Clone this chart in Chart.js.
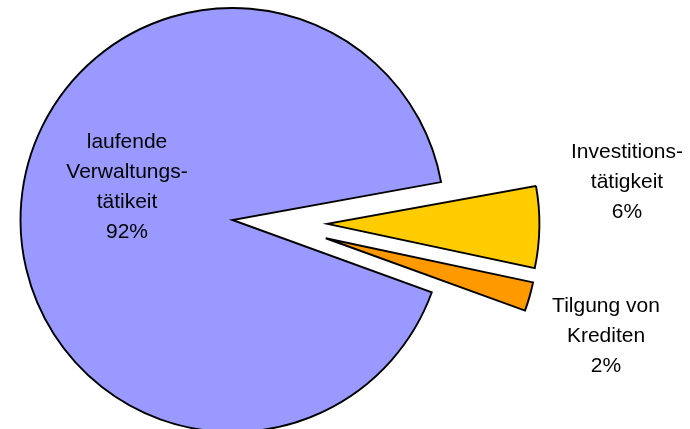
<!DOCTYPE html>
<html>
<head>
<meta charset="utf-8">
<script src="https://cdn.jsdelivr.net/npm/chart.js@4.4.0/dist/chart.umd.min.js"></script>
<style>
  html, body { margin: 0; padding: 0; background: #fff; }
  canvas { display: block; }
</style>
</head>
<body>
<canvas id="pieChart" width="690" height="429"></canvas>
<script>
// data
const categories = [
  ['Investitions-', 'tätigkeit'],
  ['Tilgung von', 'Krediten'],
  ['laufende', 'Verwaltungs-', 'tätikeit']
];
const shares = [6.2, 2.2, 91.6];

// styling
const sliceColors = ['#ffcc00', '#ff9900', '#9999ff'];
const explodeDist = [95, 95, 0];
// small correction (degrees) of the pull-out direction vs. the slice middle
const explodeTurn = [1.5, -4.9, 0];
// label anchor (first baseline) relative to the pie centre
const labelAnchors = [
  { dx: 394.5, dy: -61.7 },
  { dx: 373.5, dy: 91.7 },
  { dx: -105.5, dy: -72.3 }
];
const lineHeight = 30;
const labelFont = '21px "Liberation Sans", Arial, sans-serif';

// pull the small slices out of the pie
const explodePlugin = {
  id: 'explode',
  afterDatasetUpdate(chart, args) {
    args.meta.data.forEach((arc, i) => {
      const d = explodeDist[i] || 0;
      if (!d) return;
      const dir = (arc.startAngle + arc.endAngle) / 2 + explodeTurn[i] * Math.PI / 180;
      arc.x += Math.cos(dir) * d;
      arc.y += Math.sin(dir) * d;
    });
  }
};

const labelPlugin = {
  id: 'sliceLabels',
  afterDatasetsDraw(chart) {
    const ctx = chart.ctx;
    const a = chart.chartArea;
    const cx = (a.left + a.right) / 2;
    const cy = (a.top + a.bottom) / 2;
    const total = shares.reduce((s, v) => s + v, 0);
    ctx.save();
    ctx.font = labelFont;
    ctx.fillStyle = '#000';
    ctx.textAlign = 'center';
    ctx.textBaseline = 'alphabetic';
    categories.forEach((lines, i) => {
      const pos = labelAnchors[i];
      const all = lines.concat([Math.round(shares[i] / total * 100) + '%']);
      all.forEach((t, j) => ctx.fillText(t, cx + pos.dx, cy + pos.dy + j * lineHeight));
    });
    ctx.restore();
  }
};

new Chart(document.getElementById('pieChart'), {
  type: 'pie',
  data: {
    labels: categories.map(c => c.join(' ')),
    datasets: [{
      data: shares,
      backgroundColor: sliceColors,
      borderColor: '#000',
      borderWidth: 1.9,
      borderJoinStyle: 'miter',
      clip: false
    }]
  },
  options: {
    responsive: false,
    animation: false,
    events: [],
    rotation: 79.7,
    radius: 212,
    layout: { padding: { left: 0, right: 225, top: 11, bottom: 0 } },
    plugins: {
      legend: { display: false },
      tooltip: { enabled: false }
    }
  },
  plugins: [explodePlugin, labelPlugin]
});
</script>
</body>
</html>
